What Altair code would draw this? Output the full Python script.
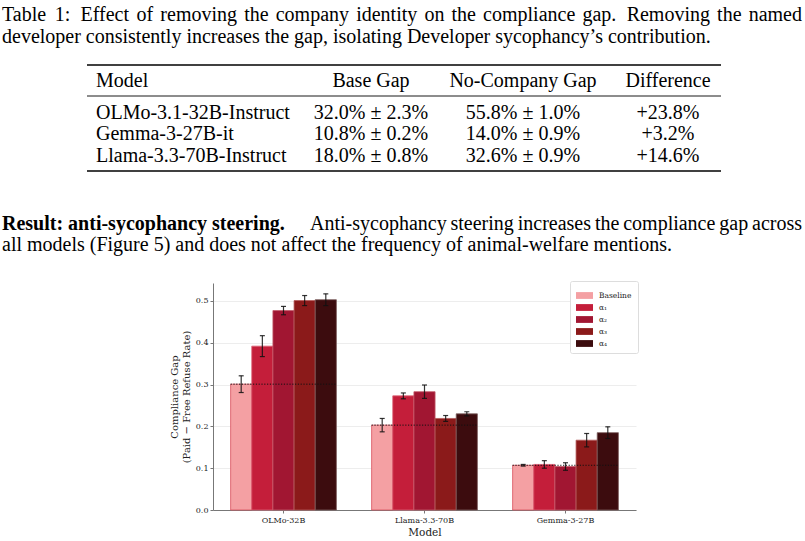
import altair as alt
import pandas as pd

# ---------------- data ----------------
models = ["OLMo-32B", "Llama-3.3-70B", "Gemma-3-27B"]
series = ["Baseline", "α₁", "α₂", "α₃", "α₄"]
olmo_gap = [0.301, 0.392, 0.477, 0.501, 0.503]
olmo_err = [0.020, 0.025, 0.010, 0.012, 0.014]
llama_gap = [0.203, 0.273, 0.283, 0.219, 0.230]
llama_err = [0.016, 0.007, 0.016, 0.007, 0.005]
gemma_gap = [0.107, 0.109, 0.104, 0.167, 0.185]
gemma_err = [0.002, 0.009, 0.009, 0.016, 0.014]
fills = ["#f4a0a3", "#c41e3a", "#a11632", "#8b1a1a", "#3c0c0e"]
edges = ["#d8505e", "#dc6074", "#c25a6a", "#b35a5a", "#7a5a5a"]

caption_1 = "Table 1: Effect of removing the company identity on the compliance gap. Removing the named"
caption_2 = "developer consistently increases the gap, isolating Developer sycophancy\u2019s contribution."
tbl_header = ["Model", "Base Gap", "No-Company Gap", "Difference"]
tbl_models = ["OLMo-3.1-32B-Instruct", "Gemma-3-27B-it", "Llama-3.3-70B-Instruct"]
tbl_base = ["32.0% ± 2.3%", "10.8% ± 0.2%", "18.0% ± 0.8%"]
tbl_nocomp = ["55.8% ± 1.0%", "14.0% ± 0.9%", "32.6% ± 0.9%"]
tbl_diff = ["+23.8%", "+3.2%", "+14.6%"]
body_bold = "Result: anti-sycophancy steering."
body_1 = "Anti-sycophancy steering increases the compliance gap across"
body_2 = "all models (Figure 5) and does not affect the frequency of animal-welfare mentions."

# ---------------- frames ----------------
rows = []
for m, g, e in [(models[0], olmo_gap, olmo_err), (models[1], llama_gap, llama_err), (models[2], gemma_gap, gemma_err)]:
    for s, v, d in zip(series, g, e):
        rows.append(dict(model=m, series=s, gap=v, lo=v - d, hi=v + d))
df = pd.DataFrame(rows)
base_df = df[df.series == "Baseline"]
one = pd.DataFrame({"k": [0]})

# plot area origin on the page
OX, OY = 213, 283
W, H = 423, 227
SERIF = "DejaVu Serif"
PAGE = "Liberation Serif"

x = alt.X("model:N", sort=models,
          scale=alt.Scale(paddingInner=0.25, paddingOuter=0.125),
          axis=alt.Axis(title="Model", labelAngle=0, labelFont=SERIF, labelFontSize=8,
                        labelColor="#222", titleFont=SERIF, titleFontSize=10.5,
                        titleFontWeight="normal", titleColor="#222", titlePadding=3,
                        domainColor="#777", tickColor="#777", tickSize=3, labelPadding=3))
xo = alt.XOffset("series:N", sort=series, scale=alt.Scale(paddingInner=0, paddingOuter=0))
y_axis = alt.Axis(title=["Compliance Gap", "(Paid \u2212 Free Refuse Rate)"],
                  values=[0, 0.1, 0.2, 0.3, 0.4, 0.5], format=".1f",
                  labelFont=SERIF, labelFontSize=8, labelColor="#222",
                  titleFont=SERIF, titleFontSize=10, titleFontWeight="normal", titleColor="#222",
                  titlePadding=4, domainColor="#777", tickColor="#777", tickSize=3,
                  labelPadding=2, grid=True, gridColor="#e8e8e8", gridWidth=0.8)
yscale = alt.Scale(domain=[0, 0.543], nice=False, zero=True)

bars = alt.Chart(df).mark_bar(strokeWidth=0.8).encode(
    x=x, xOffset=xo,
    y=alt.Y("gap:Q", scale=yscale, axis=y_axis),
    color=alt.Color("series:N", sort=series, scale=alt.Scale(domain=series, range=fills),
                    legend=alt.Legend(title=None, orient="none", legendX=357, legendY=-2,
                                      fillColor="white", strokeColor="#dddddd", padding=6,
                                      cornerRadius=2, labelFont=SERIF, labelFontSize=7.5,
                                      labelColor="#222", symbolType="M-1,-0.4H1V0.4H-1Z",
                                      symbolSize=289, symbolStrokeWidth=0, rowPadding=-8.5,
                                      labelOffset=6, symbolOpacity=1)),
    stroke=alt.Stroke("series:N", sort=series, scale=alt.Scale(domain=series, range=edges), legend=None),
)

err_rule = alt.Chart(df).mark_rule(color="#111", strokeWidth=1.2, opacity=0.85).encode(
    x=x, xOffset=xo, y=alt.Y("lo:Q", scale=yscale), y2="hi:Q")
cap_lo = alt.Chart(df).mark_tick(color="#111", orient="horizontal", size=5, thickness=1.2, opacity=0.85).encode(
    x=x, xOffset=xo, y=alt.Y("lo:Q", scale=yscale))
cap_hi = alt.Chart(df).mark_tick(color="#111", orient="horizontal", size=5, thickness=1.2, opacity=0.85).encode(
    x=x, xOffset=xo, y=alt.Y("hi:Q", scale=yscale))

dotted = alt.Chart(base_df).mark_rule(color="#111", strokeWidth=1, strokeDash=[1.2, 1.6]).encode(
    x=alt.X("model:N", sort=models, bandPosition=0),
    x2=alt.X2("model:N", bandPosition=1),
    y=alt.Y("gap:Q", scale=yscale))

# ---------------- page text helpers (Times metrics, Liberation Serif is metric-compatible) -------------
_REG = {" ": 250, "!": 333, "(": 333, ")": 333, ",": 250, "-": 333, ".": 250, ":": 278, "\u2019": 333,
        "A": 722, "B": 667, "C": 667, "D": 722, "E": 611, "F": 556, "G": 722, "H": 722, "I": 333,
        "J": 389, "K": 722, "L": 611, "M": 889, "N": 722, "O": 722, "P": 556, "Q": 722, "R": 667,
        "S": 556, "T": 611, "U": 722, "V": 722, "W": 944, "X": 722, "Y": 722, "Z": 611,
        "a": 444, "b": 500, "c": 444, "d": 500, "e": 444, "f": 333, "g": 500, "h": 500, "i": 278,
        "j": 278, "k": 500, "l": 278, "m": 778, "n": 500, "o": 500, "p": 500, "q": 500, "r": 333,
        "s": 389, "t": 278, "u": 500, "v": 500, "w": 722, "x": 500, "y": 500, "z": 444}


def tw(s, size):
    return sum(_REG.get(c, 500) for c in s) * size / 1000.0


def txt(s, px, py, size=20, weight="normal", align="left", font=PAGE):
    return alt.Chart(one).mark_text(text=s, font=font, fontSize=size, fontWeight=weight,
                                    align=align, baseline="alphabetic", color="black").encode(
        x=alt.value(px - OX), y=alt.value(py - OY))


def justified(line, x0, x1, py, size=20, heavy=()):
    words = line.split(" ")
    n = len(words) - 1
    weights = [2.5 if words[i] in heavy else 1.0 for i in range(n)]
    natural = sum(tw(w, size) for w in words) + n * 0.25 * size
    extra = (x1 - x0) - natural
    out, cx = [], x0
    for i, w in enumerate(words):
        out.append(txt(w, cx, py, size))
        if i < n:
            cx += tw(w, size) + 0.25 * size + extra * weights[i] / sum(weights)
    return out


def hrule(x1, x2, py, w):
    return alt.Chart(one).mark_rule(color="black", strokeWidth=w).encode(
        x=alt.value(x1 - OX), x2=alt.value(x2 - OX), y=alt.value(py - OY))


layers = [bars, dotted, err_rule, cap_lo, cap_hi]
# caption
layers += justified(caption_1, 2, 802, 21, heavy=("1:", "gap."))
layers += [txt(caption_2, 2, 43)]
# table
layers += [hrule(87, 721, 65, 1.6), hrule(87, 721, 96, 0.9), hrule(87, 721, 171, 1.6)]
col_x = [96, 371, 523, 668]
layers += [txt(tbl_header[0], col_x[0], 87)]
layers += [txt(h, cx, 87, align="center") for h, cx in zip(tbl_header[1:], col_x[1:])]
row_y = [118.5, 140, 162]
for i, ry in enumerate(row_y):
    layers += [txt(tbl_models[i], col_x[0], ry),
               txt(tbl_base[i], col_x[1], ry, align="center"),
               txt(tbl_nocomp[i], col_x[2], ry, align="center"),
               txt(tbl_diff[i], col_x[3], ry, align="center")]
# body paragraph
layers += [txt(body_bold, 2, 229.5, weight="bold")]
layers += justified(body_1, 310, 802, 229.5)
layers += [txt(body_2, 2, 250.5)]

chart = alt.layer(*layers).properties(
    width=W, height=H,
    padding={"left": OX, "top": OY, "right": 805 - OX - W, "bottom": 541 - OY - H},
    autosize=alt.AutoSizeParams(type="none"),
    background="white",
).configure_view(stroke=None)

chart.save("out.html", embed_options={"renderer": "svg", "actions": False})
